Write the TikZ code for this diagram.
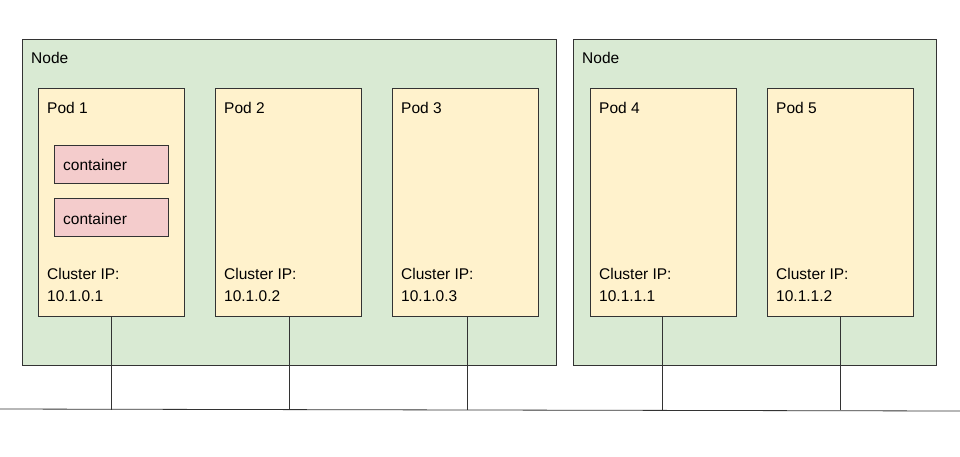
\documentclass[tikz,border=0pt]{standalone}
\usepackage{fontspec}
\setmainfont{Liberation Sans}
\definecolor{ngreen}{HTML}{D9EAD3}
\definecolor{pyellow}{HTML}{FFF2CC}
\definecolor{cred}{HTML}{F4CCCC}
\begin{document}
\begin{tikzpicture}[x=1pt,y=-1pt,
  box/.style={draw=black!80,line width=0.8pt,anchor=north west,inner sep=0pt},
  hostn/.style={box,fill=ngreen,minimum width=534pt,minimum height=326pt},
  pod/.style={box,fill=pyellow,minimum width=146pt,minimum height=228pt},
  ctr/.style={box,fill=cred,minimum width=114pt,minimum height=38pt},
  lab/.style={anchor=base west,inner sep=0pt,font=\fontsize{15.5}{18}\selectfont,align=left},
  wire/.style={draw=black!80,line width=0.8pt}]
\useasboundingbox (0,0) rectangle (960,456);
\node[hostn] (n1) at (22,39) {};
\node[hostn,minimum width=363pt] (n2) at (573,39) {};
\node[lab] at (31,63) {Node};
\node[lab] at (582,63) {Node};
\foreach \x/\n/\ip in {38/1/10.1.0.1,215/2/10.1.0.2,392/3/10.1.0.3,590/4/10.1.1.1,767/5/10.1.1.2}{
  \node[pod] (p\n) at (\x,88) {};
  \node[lab] at (\x+9,113) {Pod \n};
  \node[lab] at (\x+9,279) {Cluster IP:};
  \node[lab] at (\x+9,301) {\ip};
}
\node[ctr] (c1) at (54,145) {};
\node[lab] at (63,170) {container};
\node[ctr] (c2) at (54,198) {};
\node[lab] at (63,224) {container};
\coordinate (b0) at (0,409);
\coordinate (b1) at (960,411);
\draw[wire] (b0) -- (b1);
\foreach \n/\x in {1/111,2/289,3/467,4/662,5/840}{
  \coordinate (t\n) at (\x,410);
  \draw[wire] (p\n.south -| t\n) -- (t\n);
}
\end{tikzpicture}
\end{document}
